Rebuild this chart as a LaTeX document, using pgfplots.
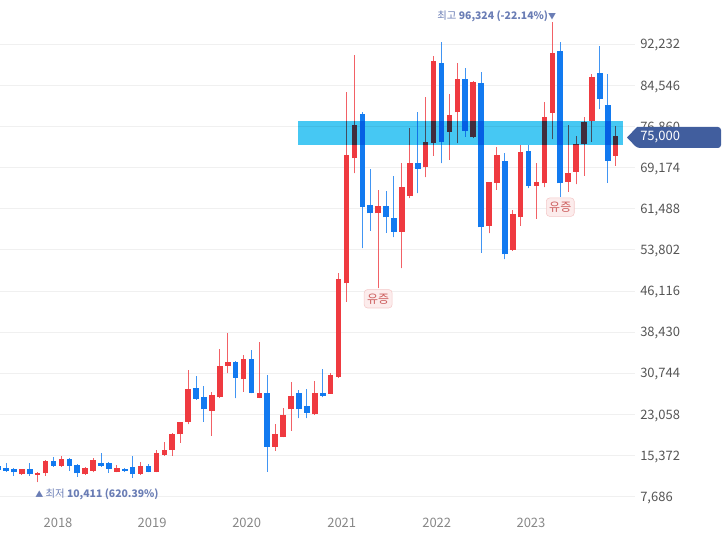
\documentclass[border=0pt]{standalone}
\usepackage{fontspec}
\setmainfont{Noto Sans CJK KR}
\usepackage{pgfplots}
\usepackage{pgfplotstable}
\pgfplotsset{compat=1.18}

\definecolor{upred}{RGB}{239,58,64}
\definecolor{downblue}{RGB}{18,122,240}
\definecolor{bandcyan}{RGB}{70,200,243}
\definecolor{gridgray}{RGB}{240,240,240}
\definecolor{tickgray}{RGB}{85,85,85}
\definecolor{yeargray}{RGB}{135,135,135}
\definecolor{annot}{RGB}{106,125,181}
\definecolor{tagblue}{RGB}{65,94,158}
\definecolor{yzfill}{RGB}{252,236,236}
\definecolor{yzdraw}{RGB}{244,200,200}
\definecolor{yztext}{RGB}{205,95,95}

% monthly candles, k = 0 is Jun 2017
\pgfplotstableread{
k o h l c
-1 13418 13792 12484 12670
0 12988 13923 12353 12484
1 12857 12988 11605 12241
2 11867 12913 11736 12801
3 12801 13923 11549 11867
4 11792 12353 10411 12166
5 12054 14539 11549 14408
6 14408 15156 13287 13474
7 13418 15287 13287 14670
8 14726 14857 12540 13474
9 13605 13736 11418 12054
10 11867 13287 11792 12988
11 12540 14857 12241 14539
12 14035 15791 13287 13474
13 14035 14222 12166 12857
14 12353 13605 12241 13044
15 12913 13044 12353 12484
16 13175 15287 11231 11867
17 11923 14222 11792 13418
18 13474 13792 12241 12353
19 12353 16408 12241 15791
20 15474 17959 15287 16408
21 16408 19641 15343 19398
22 19342 21697 17772 21641
23 21697 31359 21211 27752
24 27939 30237 25752 25939
25 26257 28368 21697 24014
26 23752 27303 19024 26686
27 26257 35227 26100 32106
28 32162 38217 30742 32797
29 32797 33096 26070 29919
30 29620 34162 27303 33414
31 33414 35096 27004 27116
32 26182 36535 26100 27116
33 27116 30424 12353 17025
34 17025 21211 16221 19342
35 18894 24201 18781 22949
36 24014 29172 19959 26500
37 27116 27621 22332 24014
38 24631 27808 22332 23379
39 23080 29359 22949 27116
40 27116 31545 26257 26500
41 26873 30742 26873 30424
42 30106 49542 29900 48308
43 47561 83367 44122 71538
44 70921 90224 68118 77144
45 79200 79630 54102 61876
46 62194 68865 57391 60643
47 60643 64997 46627 62007
48 62007 64866 57017 59895
49 59708 67613 56157 57204
50 57204 69987 50364 65557
51 63932 76639 63446 69987
52 69987 79630 64380 68977
53 69239 82321 67370 73911
54 73836 90039 71351 89104
55 88675 92711 69987 74023
56 75892 82937 70603 79013
57 79517 88675 73724 85684
58 85684 87852 74957 76079
59 74845 85300 74700 85180
60 84937 87105 53280 58026
61 58269 66500 56905 66436
62 66361 72977 64997 71482
63 70416 71855 52046 52980
64 53784 61259 53600 60512
65 59895 73406 58269 72154
66 72285 73406 65315 65801
67 65801 69987 59577 66492
68 66249 81498 65501 78583
69 79443 96324 74472 90655
70 90973 92599 63745 66249
71 66548 77144 64679 68118
72 68417 75088 66062 73537
73 73537 78695 67669 77649
74 77948 86675 74023 86170
75 86806 91908 80078 82003
76 80882 86675 66361 70416
77 71407 76957 69538 75000
}\candles

\pgfplotsset{
    candle/.style={only marks, mark=none, mark size=0pt,
        mark options={draw=none, fill=none},
        error bars/.cd, y dir=plus, y explicit, error mark=none,
        error mark options={draw=none, fill=none, mark size=0pt}},
    up/.style={restrict expr to domain={\thisrow{c}-\thisrow{o}}{0:1000000}},
    down/.style={restrict expr to domain={\thisrow{c}-\thisrow{o}}{-1000000:-0.5}},
}

\begin{document}
\begin{tikzpicture}
\begin{axis}[
    at={(0pt,0pt)}, anchor=south west,
    scale only axis,
    width=476.25pt, height=382.5pt,
    xmin=-0.758, xmax=79.44,
    ymin=5195, ymax=100504,
    axis line style={draw=none},
    major tick length=0pt,
    xtick={6.57,18.46,30.4,42.4,54.4,66.3},
    xticklabels={2018,2019,2020,2021,2022,2023},
    xticklabel style={anchor=center, inner sep=0pt, yshift=-9.75pt,
        color=yeargray, font=\fontsize{9.75}{11}\selectfont},
    ytick={7686,15372,23058,30744,38430,46116,53802,61488,69174,76860,84546,92232},
    scaled y ticks=false,
    yticklabel pos=right,
    yticklabel style={anchor=west, inner sep=0pt, xshift=3.75pt, yshift=-0.9pt,
        color=tickgray, font=\fontsize{9.75}{11}\selectfont,
        /pgf/number format/fixed,
        /pgf/number format/precision=0,
        /pgf/number format/1000 sep={,},
        /pgf/number format/assume math mode=true},
    ymajorgrids,
    grid style={gridgray, line width=0.75pt},
    clip=false,
]
% wicks
\addplot[up, candle, error bar style={line width=0.75pt, color=upred, opacity=0.8}]
    table[x=k, y=l, y error expr=\thisrow{h}-\thisrow{l}] {\candles};
\addplot[down, candle, error bar style={line width=0.75pt, color=downblue, opacity=0.8}]
    table[x=k, y=l, y error expr=\thisrow{h}-\thisrow{l}] {\candles};
% bodies
\addplot[up, candle, error bar style={line width=4.2pt, color=upred}]
    table[x=k, y=o, y error expr={max(\thisrow{c}-\thisrow{o},250)}] {\candles};
\addplot[down, candle, error bar style={line width=4.2pt, color=downblue}]
    table[x=k, y=c, y error expr={max(\thisrow{o}-\thisrow{c},250)}] {\candles};
% highlight band
\addplot[fill=bandcyan, draw=none, blend mode=multiply]
    coordinates {(36.92,73407) (36.92,77948) (77.89,77948) (77.89,73407)} -- cycle;

\node[anchor=base east, inner sep=0pt, xshift=3pt, yshift=2.5pt,
    font=\fontsize{7.8}{9}\selectfont, text=annot]
    at (axis cs:69,96324) {최고 \textbf{96,324 (-22.14\%)}{\fontsize{6}{7}\selectfont▼}};
\node[anchor=base west, inner sep=0pt, xshift=-2pt, yshift=-11.2pt,
    font=\fontsize{7.8}{9}\selectfont, text=annot]
    at (axis cs:4,10411) {{\fontsize{6}{7}\selectfont▲} 최저 \textbf{10,411 (620.39\%)}};
\node[anchor=north, yshift=-0.75pt, fill=yzfill, draw=yzdraw, rounded corners=2.5pt,
    text=yztext, inner xsep=2.2pt, inner ysep=3pt, font=\fontsize{9}{10}\selectfont]
    at (axis cs:47,46627) {유증};
\node[anchor=north, yshift=-0.75pt, fill=yzfill, draw=yzdraw, rounded corners=2.5pt,
    text=yztext, inner xsep=2.2pt, inner ysep=3pt, font=\fontsize{9}{10}\selectfont]
    at (axis cs:70,63745) {유증};
\end{axis}
% current price tag
\fill[tagblue, rounded corners=2.25pt] (477.75pt,287.25pt) -- (540.75pt,287.25pt)
    -- (540.75pt,271.5pt) -- (477.75pt,271.5pt) [sharp corners] -- (470.25pt,279.375pt) -- cycle;
\node[anchor=west, inner sep=0pt, text=white, font=\fontsize{9.75}{11}\selectfont]
    at (480pt,279.4pt) {75,000};
\pgfresetboundingbox
\path[use as bounding box] (0pt,-26.25pt) rectangle (545.25pt,382.5pt);
\end{tikzpicture}
\end{document}
